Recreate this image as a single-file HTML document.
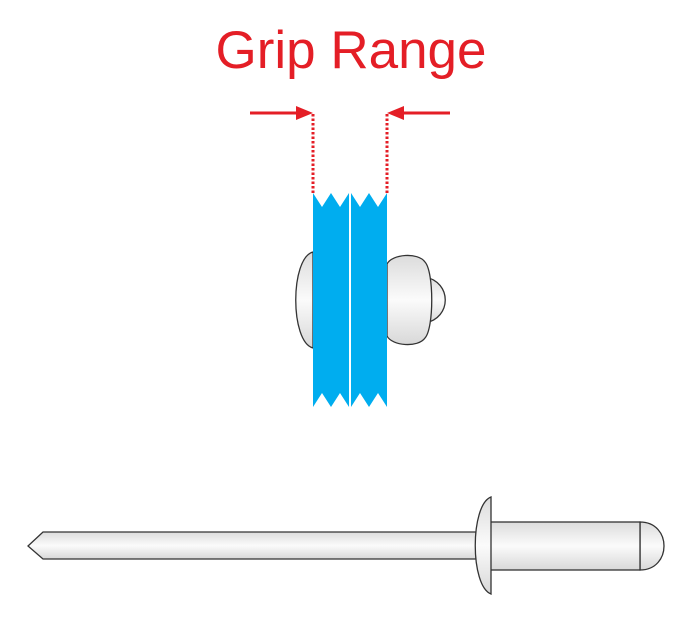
<!DOCTYPE html>
<html><head><meta charset="utf-8"><style>html,body{margin:0;padding:0;background:#fff}svg{display:block}</style></head>
<body>
<svg width="700" height="624" viewBox="0 0 700 624" xmlns="http://www.w3.org/2000/svg">
<defs>
<linearGradient id="mg" x1="0" y1="0" x2="0" y2="1">
<stop offset="0" stop-color="#dcdcdc"/><stop offset="0.5" stop-color="#fbfbfb"/><stop offset="1" stop-color="#d8d8d8"/>
</linearGradient>
</defs>
<text x="351" y="68" text-anchor="middle" font-family="Liberation Sans, sans-serif" font-size="53" fill="#e41e26">Grip Range</text>
<line x1="250" y1="113" x2="300" y2="113" stroke="#e41e26" stroke-width="3"/>
<polygon points="296,106 313,113 296,120" fill="#e41e26"/>
<line x1="450" y1="113" x2="400" y2="113" stroke="#e41e26" stroke-width="3"/>
<polygon points="404,106 387,113 404,120" fill="#e41e26"/>
<line x1="313" y1="114" x2="313" y2="193" stroke="#e41e26" stroke-width="3" stroke-dasharray="2.5,2"/>
<line x1="387" y1="114" x2="387" y2="193" stroke="#e41e26" stroke-width="3" stroke-dasharray="2.5,2"/>
<path d="M313,252 C290,258 290,342 313,348 Z" fill="url(#mg)" stroke="#333" stroke-width="1.3"/>
<path d="M425,277 C452,282 452,318 425,323 Z" fill="url(#mg)" stroke="#333" stroke-width="1.3"/>
<path d="M387,264 C392,254 418,252 425,262 C434,272 434,328 425,338 C418,348 392,346 387,336 Z" fill="url(#mg)" stroke="#333" stroke-width="1.3"/>
<polygon points="313,193 322,207 331,193 340,207 349,193 349,407 340,393 331,407 322,393 313,407" fill="#00adef"/>
<polygon points="351,193 360,207 369,193 378,207 387,193 387,407 378,393 369,407 360,393 351,407" fill="#00adef"/>
<path d="M476,532 L43,532 L28,546 L43,559 L476,559 Z" fill="url(#mg)" stroke="#333" stroke-width="1.3"/>
<path d="M640,522 C672,522 672,570 640,570 Z" fill="url(#mg)" stroke="#333" stroke-width="1.3"/>
<rect x="490" y="522" width="150" height="48" fill="url(#mg)" stroke="#333" stroke-width="1.3"/>
<path d="M491,497 C470,505 470,586 491,594 Z" fill="url(#mg)" stroke="#333" stroke-width="1.3"/>
</svg>
</body></html>
